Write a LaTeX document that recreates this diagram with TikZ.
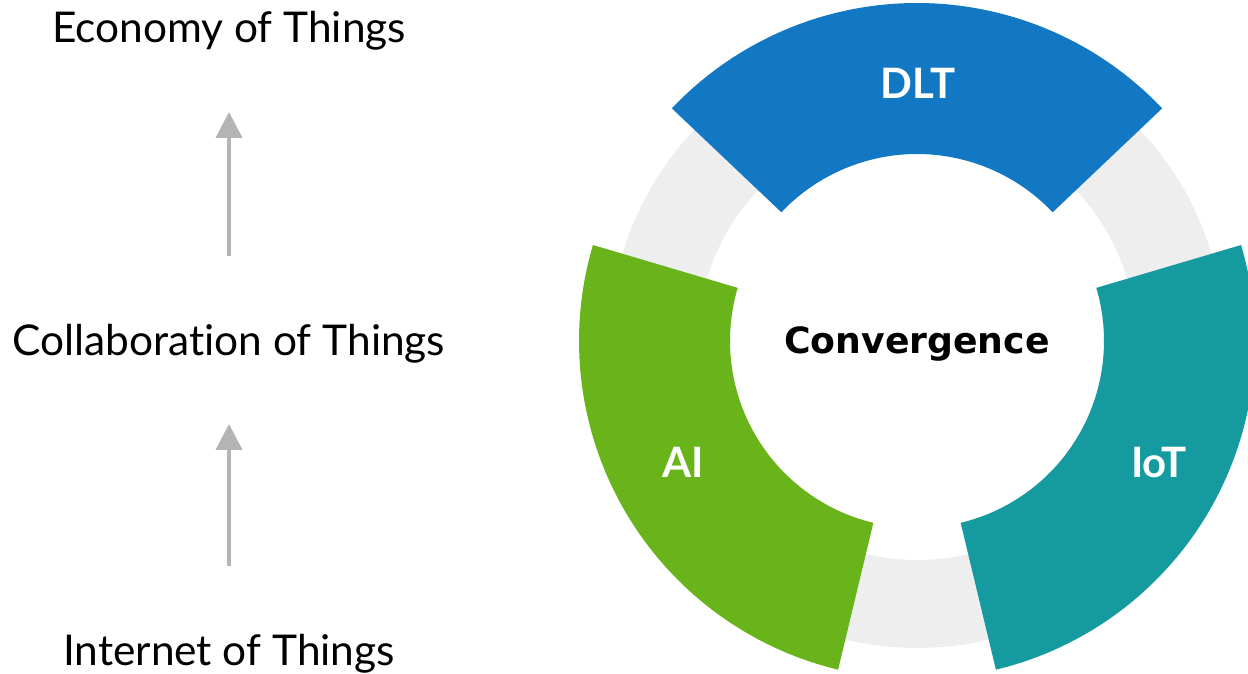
\documentclass[tikz,border=0pt]{standalone}
\usepackage{fontspec}
\setmainfont{Lato}[Ligatures=NoCommon]
\newfontfamily\convfont{DejaVu Sans}
\usetikzlibrary{arrows.meta}

\definecolor{dltblue}{HTML}{1278C4}
\definecolor{aigreen}{HTML}{68B41A}
\definecolor{iotteal}{HTML}{159A9F}
\definecolor{ringgray}{HTML}{EEEEEE}
\definecolor{arrowgray}{HTML}{B4B4B4}

\begin{document}
\begin{tikzpicture}[x=1pt, y=1pt
        , thing/.style={inner sep=0pt, anchor=base, font=\fontsize{42.4}{50}\selectfont}
        , seglabel/.style={inner sep=0pt, anchor=base, text=white, font=\fontsize{41.9}{50}\selectfont\bfseries}
        , uparrow/.style={draw=arrowgray, line width=4pt, -{Triangle[width=26pt,length=26pt]}, shorten <=68pt, shorten >=61pt}
        ]
        \useasboundingbox (0,0) rectangle (1248,-674);

        % left column
        \node[thing] (economy) at (229,-43) {Economy of Things};
        \node[thing] (collab) at (229,-355) {Collaboration of Things};
        \node[thing] (internet) at (229,-665) {Internet of Things};
        \draw[uparrow] (internet.north) -- (collab.south);
        \draw[uparrow] (collab.north) -- (economy.south);

        % ring and segments
        \coordinate (c) at (917,-341);
        \fill[ringgray, even odd rule] (c) circle[radius=307] (c) circle[radius=219];
        \begin{scope}[shift={(c)}]
            \foreach \col/\ang in {dltblue/90, aigreen/210, iotteal/330} {
                \fill[\col] ({\ang-46.5}:338) arc[start angle=\ang-46.5, end angle=\ang+46.5, radius=338]
                    -- ({\ang+46.5}:187) arc[start angle=\ang+46.5, end angle=\ang-46.5, radius=187] -- cycle;
            }
        \end{scope}

        \node[seglabel] (dlt) at (918,-99) {DLT};
        \node[seglabel] (ai) at (683,-477) {AI};
        \node[seglabel] (iot) at (1159,-477) {IoT};
        \node[inner sep=0pt, anchor=base, font=\convfont\fontsize{36.2}{42}\selectfont\bfseries] (conv) at (917,-353) {Convergence};

    \end{tikzpicture}
\end{document}
